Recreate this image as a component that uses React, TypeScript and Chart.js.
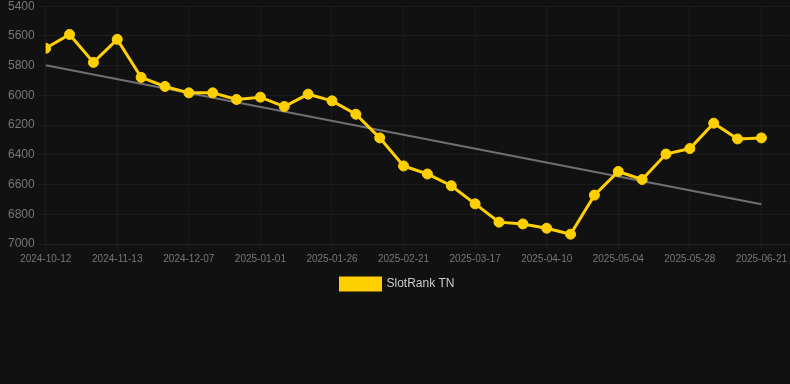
import React, { useEffect, useRef } from "react";
import { Chart, registerables } from "chart.js";

Chart.register(...registerables);

const dates: string[] = [
  "2024-10-12", "2024-10-23", "2024-11-02", "2024-11-13", "2024-11-21", "2024-11-29",
  "2024-12-07", "2024-12-15", "2024-12-24", "2025-01-01", "2025-01-09", "2025-01-17",
  "2025-01-26", "2025-02-03", "2025-02-12", "2025-02-21", "2025-03-01", "2025-03-09",
  "2025-03-17", "2025-03-25", "2025-04-02", "2025-04-10", "2025-04-18", "2025-04-26",
  "2025-05-04", "2025-05-12", "2025-05-20", "2025-05-28", "2025-06-05", "2025-06-13",
  "2025-06-21",
];

const rankValues: number[] = [
  5683, 5590, 5778, 5623, 5879, 5940, 5983, 5983, 6028, 6012, 6075,
  5992, 6037, 6127, 6286, 6475, 6529, 6608, 6730, 6853, 6865, 6894,
  6934, 6671, 6512, 6566, 6395, 6358, 6187, 6293, 6286,
];

const trendStart = 5798;
const trendEnd = 6733;

const yTicks: number[] = [5400, 5600, 5800, 6000, 6200, 6400, 6600, 6800, 7000];

export default function App() {
  const ref = useRef<HTMLCanvasElement | null>(null);

  useEffect(() => {
    document.body.style.margin = "0";
    document.body.style.background = "#111111";
    const canvas = ref.current;
    if (!canvas) return;
    const rankData = rankValues.map((v, i) => ({ x: i, y: v }));
    const trendData = [
      { x: 0, y: trendStart },
      { x: rankValues.length - 1, y: trendEnd },
    ];
    const chart = new Chart(canvas, {
      type: "line",
      data: {
        datasets: [
          {
            label: "SlotRank TN",
            data: rankData,
            borderColor: "#ffd000",
            backgroundColor: "#ffd000",
            borderWidth: 3,
            pointRadius: 5,
            pointBackgroundColor: "#ffd000",
            pointBorderColor: "#ffd000",
            pointBorderWidth: 1,
            tension: 0,
          },
          {
            label: "trend",
            data: trendData,
            borderColor: "#707070",
            backgroundColor: "#707070",
            borderWidth: 2,
            pointRadius: 0,
            tension: 0,
          },
        ],
      },
      options: {
        animation: false,
        responsive: false,
        maintainAspectRatio: false,
        layout: { autoPadding: false, padding: { left: 5, right: 0, top: 6, bottom: 0 } },
        plugins: {
          legend: {
            position: "bottom",
            labels: {
              color: "#cccccc",
              boxWidth: 40,
              boxHeight: 12,
              font: { size: 12, family: "Arial, 'Liberation Sans', sans-serif" },
              filter: (item: any) => item.text !== "trend",
            },
          },
          tooltip: { enabled: false },
        },
        scales: {
          x: {
            type: "linear",
            min: 0,
            max: 31.18,
            afterBuildTicks: (axis: any) => {
              const t: any[] = [];
              for (let i = 0; i < dates.length; i += 3) t.push({ value: i });
              axis.ticks = t;
            },
            ticks: {
              color: "#777777",
              font: { size: 10, family: "Arial, 'Liberation Sans', sans-serif" },
              maxRotation: 0,
              autoSkip: false,
              callback: (v: any) => dates[v as number] ?? "",
            },
            grid: { color: "#1b1b1b", tickLength: 6 },
            border: { color: "#272727" },
          },
          y: {
            reverse: true,
            min: yTicks[0],
            max: yTicks[yTicks.length - 1],
            afterBuildTicks: (axis: any) => {
              axis.ticks = yTicks.map((v) => ({ value: v }));
            },
            ticks: {
              color: "#777777",
              font: { size: 12, family: "Arial, 'Liberation Sans', sans-serif" },
              callback: (v: any) => String(v),
            },
            grid: { color: "#1b1b1b", tickLength: 8 },
            border: { color: "#1b1b1b" },
          },
        },
      },
    } as any);
    return () => chart.destroy();
  }, []);

  return (
    <div style={{ width: 790, height: 384, background: "#111111", overflow: "hidden" }}>
      <canvas ref={ref} width={790} height={304} style={{ display: "block", marginTop: -4 }} />
    </div>
  );
}
